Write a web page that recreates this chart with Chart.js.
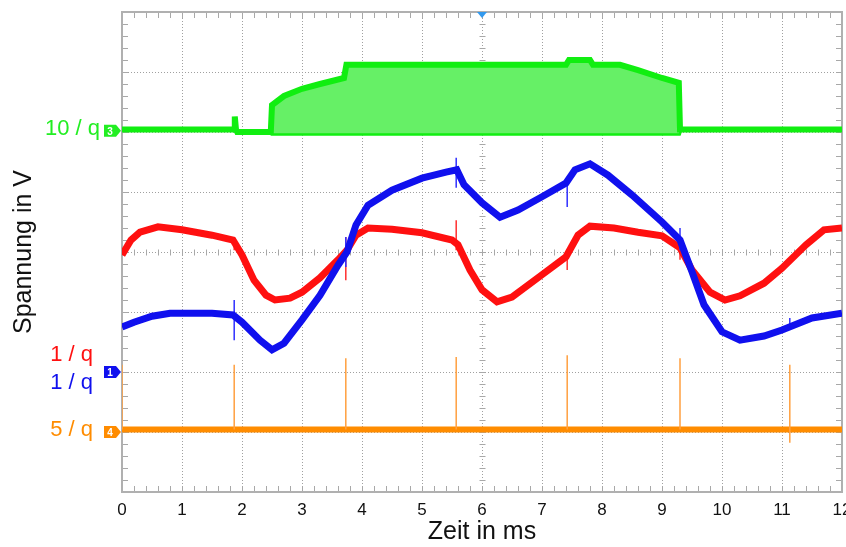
<!DOCTYPE html>
<html>
<head>
<meta charset="utf-8">
<script src="https://cdn.jsdelivr.net/npm/chart.js@4.4.0/dist/chart.umd.min.js"></script>
<style>
  html, body { margin: 0; padding: 0; background: #fff; }
</style>
</head>
<body>
<canvas id="scope" width="846" height="547"></canvas>
<script>
// Oszilloskop-Aufnahme: Werte in Teilungen (0 = unten, 8 = oben), Zeit in ms

const xTicks = [0, 1, 2, 3, 4, 5, 6, 7, 8, 9, 10, 11, 12];

// Kanal rot (1 / q)
const redT = [0, 0.15, 0.3, 0.6, 1.0, 1.5, 1.85, 2.0, 2.2, 2.4, 2.55, 2.8, 3.0, 3.3, 3.6, 3.75, 3.9, 4.1, 4.5, 5.0, 5.5, 5.6,
  5.8, 6.0, 6.25, 6.5, 7.0, 7.4, 7.6, 7.8, 8.2, 8.6, 9.0, 9.3, 9.5, 9.8, 10.05, 10.3, 10.7, 11.0, 11.4, 11.7, 12.0];
const redV = [3.95, 4.2, 4.33, 4.42, 4.37, 4.28, 4.2, 3.95, 3.53, 3.28, 3.2, 3.23, 3.33, 3.57, 3.87, 4.03, 4.28, 4.4, 4.38, 4.32, 4.2, 4.12,
  3.7, 3.37, 3.17, 3.25, 3.62, 3.92, 4.28, 4.43, 4.4, 4.33, 4.27, 4.07, 3.7, 3.33, 3.2, 3.27, 3.48, 3.73, 4.12, 4.37, 4.4];

// Kanal blau (1 / q)
const blueT = [0, 0.2, 0.5, 0.8, 1.5, 1.85, 2.0, 2.3, 2.5, 2.7, 3.0, 3.3, 3.6, 3.75, 3.9, 4.1, 4.5, 5.0, 5.4, 5.58, 5.7,
  6.0, 6.3, 6.6, 7.0, 7.4, 7.55, 7.8, 8.1, 8.5, 9.0, 9.3, 9.5, 9.7, 10.0, 10.3, 10.7, 11.0, 11.5, 12.0];
const blueV = [2.75, 2.83, 2.93, 2.98, 2.98, 2.95, 2.83, 2.53, 2.37, 2.48, 2.87, 3.28, 3.78, 4.0, 4.45, 4.78, 5.03, 5.23, 5.33, 5.37, 5.12,
  4.82, 4.58, 4.7, 4.92, 5.15, 5.37, 5.47, 5.28, 4.95, 4.5, 4.2, 3.67, 3.12, 2.67, 2.53, 2.6, 2.7, 2.9, 2.98];

// Kanal gruen (10 / q): Huellkurve oben und unten
const greenT = [0, 1.87, 1.88, 1.9, 1.92, 2.48, 2.5, 2.7, 3.0, 3.3, 3.7, 3.74, 7.4, 7.45, 7.8, 7.85, 8.3, 8.6, 9.0, 9.28, 9.3, 12];
const greenTop = [6.04, 6.04, 6.26, 6.04, 6.0, 6.0, 6.45, 6.6, 6.72, 6.8, 6.9, 7.12, 7.12, 7.2, 7.2, 7.12, 7.12, 7.03, 6.9, 6.82, 6.04, 6.04];
const greenBottom = [6.04, 6.04, 6.04, 6.04, 6.0, 6.0, 5.98, 5.98, 5.98, 5.98, 5.98, 5.98, 5.98, 5.98, 5.98, 5.98, 5.98, 5.98, 5.98, 5.98, 6.04, 6.04];

// Kanal orange (5 / q)
const orangeT = [0, 12];
const orangeV = [1.04, 1.04];

// Schaltspitzen
const orangeSpikeT = [0, 1.87, 3.73, 5.57, 7.42, 9.3, 11.13];
const orangeSpikeTop = [2.12, 2.12, 2.23, 2.25, 2.28, 2.23, 2.12];
const orangeSpikeBottom = [1.04, 1.04, 1.04, 1.04, 1.04, 1.04, 0.82];

const blueSpikeT = [1.87, 3.73, 5.57, 7.42, 9.3, 11.13];
const blueSpikeTop = [3.2, 4.25, 5.57, 5.15, 4.4, 2.9];
const blueSpikeBottom = [2.53, 3.75, 5.07, 4.75, 4.03, 2.75];

const redSpikeT = [1.87, 3.73, 5.57, 7.42, 9.3];
const redSpikeTop = [4.25, 4.25, 4.53, 4.03, 4.12];
const redSpikeBottom = [4.03, 3.53, 4.03, 3.7, 3.87];

// Kanalbeschriftungen links
const channelLabels = [
  { text: '10 / q', color: '#22ee22', level: 6.05 },
  { text: '1 / q', color: '#ff1010', level: 2.28 },
  { text: '1 / q', color: '#1010ee', level: 1.82 },
  { text: '5 / q', color: '#ff8c00', level: 1.03 }
];
const channelMarkers = [
  { text: '3', color: '#22ee22', level: 6.02 },
  { text: '1', color: '#1010ee', level: 2.0 },
  { text: '4', color: '#ff8c00', level: 1.0 }
];

function toPoints(t, v) {
  return t.map((x, i) => ({ x: x, y: v[i] }));
}

function spikePoints(t, top, bottom) {
  const pts = [];
  t.forEach((x, i) => {
    pts.push({ x: x, y: bottom[i] });
    pts.push({ x: x, y: top[i] });
    pts.push({ x: x, y: null });
  });
  return pts;
}

function line(ctx, x1, y1, x2, y2) {
  ctx.beginPath();
  ctx.moveTo(x1, y1);
  ctx.lineTo(x2, y2);
  ctx.stroke();
}

// Rahmen, Teilstriche, Marker
const scopeDecor = {
  id: 'scopeDecor',
  beforeDatasetsDraw(chart) {
    const { ctx, chartArea: a, scales: { x, y } } = chart;
    const xc = Math.round(x.getPixelForValue(6)) + 0.5;
    const yc = Math.round(y.getPixelForValue(4)) + 0.5;
    ctx.save();
    ctx.strokeStyle = '#a8a8a8';
    ctx.lineWidth = 1;
    for (let i = 0; i <= 60; i++) {
      const px = Math.round(x.getPixelForValue(i * 0.2)) + 0.5;
      line(ctx, px, a.top, px, a.top + 6);
      line(ctx, px, a.bottom - 6, px, a.bottom);
      line(ctx, px, yc - 3, px, yc + 3);
    }
    for (let i = 0; i <= 40; i++) {
      const py = Math.round(y.getPixelForValue(i * 0.2)) + 0.5;
      line(ctx, a.left, py, a.left + 6, py);
      line(ctx, a.right - 6, py, a.right, py);
      line(ctx, xc - 3, py, xc + 3, py);
    }
    ctx.lineWidth = 2;
    ctx.strokeStyle = '#b0b0b0';
    ctx.strokeRect(a.left, a.top, a.right - a.left, a.bottom - a.top);
    ctx.restore();
  },
  afterDraw(chart) {
    const { ctx, chartArea: a, scales: { x, y } } = chart;
    ctx.save();
    // Triggermarke
    const tx = x.getPixelForValue(6);
    ctx.fillStyle = '#3399ee';
    ctx.beginPath();
    ctx.moveTo(tx - 5, a.top);
    ctx.lineTo(tx + 5, a.top);
    ctx.lineTo(tx, a.top + 6);
    ctx.closePath();
    ctx.fill();

    ctx.font = '22px "Liberation Sans", Arial, sans-serif';
    ctx.textAlign = 'right';
    ctx.textBaseline = 'middle';
    channelLabels.forEach(l => {
      ctx.fillStyle = l.color;
      ctx.fillText(l.text, l.text === '10 / q' ? 100 : 93, y.getPixelForValue(l.level));
    });

    channelMarkers.forEach(m => {
      const py = y.getPixelForValue(m.level);
      ctx.fillStyle = m.color;
      ctx.beginPath();
      ctx.moveTo(104, py - 6);
      ctx.lineTo(116, py - 6);
      ctx.lineTo(121, py);
      ctx.lineTo(116, py + 6);
      ctx.lineTo(104, py + 6);
      ctx.closePath();
      ctx.fill();
      ctx.fillStyle = '#fff';
      ctx.font = 'bold 10px "Liberation Sans", Arial, sans-serif';
      ctx.textAlign = 'center';
      ctx.fillText(m.text, 110, py + 1);
    });
    ctx.restore();
  }
};

const ctx = document.getElementById('scope');

new Chart(ctx, {
  type: 'line',
  data: {
    datasets: [
      {
        label: 'gruen oben',
        data: toPoints(greenT, greenTop),
        borderColor: '#11ee11',
        borderWidth: 6,
        backgroundColor: '#66f066',
        fill: '+1',
        order: 5
      },
      {
        label: 'gruen unten',
        data: toPoints(greenT, greenBottom),
        borderColor: '#11ee11',
        borderWidth: 5,
        fill: false,
        order: 5
      },
      {
        label: 'orange Spitzen',
        data: spikePoints(orangeSpikeT, orangeSpikeTop, orangeSpikeBottom),
        borderColor: '#ffa040',
        borderWidth: 1.5,
        spanGaps: false,
        order: 4
      },
      {
        label: 'orange',
        data: toPoints(orangeT, orangeV),
        borderColor: '#ff8c00',
        borderWidth: 6,
        order: 4
      },
      {
        label: 'rot',
        data: toPoints(redT, redV),
        borderColor: '#ff1010',
        borderWidth: 7,
        order: 3
      },
      {
        label: 'rot Spitzen',
        data: spikePoints(redSpikeT, redSpikeTop, redSpikeBottom),
        borderColor: '#ff3030',
        borderWidth: 1.5,
        spanGaps: false,
        order: 3
      },
      {
        label: 'blau',
        data: toPoints(blueT, blueV),
        borderColor: '#1010ee',
        borderWidth: 7,
        order: 1
      },
      {
        label: 'blau Spitzen',
        data: spikePoints(blueSpikeT, blueSpikeTop, blueSpikeBottom),
        borderColor: '#3030ff',
        borderWidth: 1.5,
        spanGaps: false,
        order: 1
      }
    ]
  },
  options: {
    responsive: false,
    devicePixelRatio: 1,
    animation: false,
    layout: { padding: { top: 12, right: 4, left: 0, bottom: 0 } },
    elements: {
      point: { radius: 0, hoverRadius: 0 },
      line: { tension: 0, fill: false }
    },
    plugins: {
      legend: { display: false },
      tooltip: { enabled: false }
    },
    scales: {
      x: {
        type: 'linear',
        min: 0,
        max: 12,
        afterBuildTicks: s => { s.ticks = xTicks.map(v => ({ value: v })); },
        afterFit: s => { s.height = 55; s.paddingLeft = 0; s.paddingRight = 0; },
        grid: { color: '#a0a0a0', lineWidth: 1, drawTicks: false },
        border: { display: false, dash: [1, 2] },
        ticks: {
          padding: 8,
          color: '#111',
          maxRotation: 0,
          font: { family: '"Liberation Sans", Arial, sans-serif', size: 17 }
        },
        title: {
          display: true,
          text: 'Zeit in ms',
          color: '#111',
          padding: { top: 0, bottom: 0 },
          font: { family: '"Liberation Sans", Arial, sans-serif', size: 25 }
        }
      },
      y: {
        type: 'linear',
        min: 0,
        max: 8,
        afterBuildTicks: s => { s.ticks = [0, 1, 2, 3, 4, 5, 6, 7, 8].map(v => ({ value: v })); },
        afterFit: s => { s.width = 122; s.paddingTop = 0; s.paddingBottom = 0; },
        grid: { color: '#a0a0a0', lineWidth: 1, drawTicks: false },
        border: { display: false, dash: [1, 2] },
        ticks: { display: false },
        title: {
          display: true,
          text: 'Spannung in V',
          color: '#111',
          padding: { top: 9, bottom: 0 },
          font: { family: '"Liberation Sans", Arial, sans-serif', size: 25 }
        }
      }
    }
  },
  plugins: [scopeDecor]
});
</script>
</body>
</html>
